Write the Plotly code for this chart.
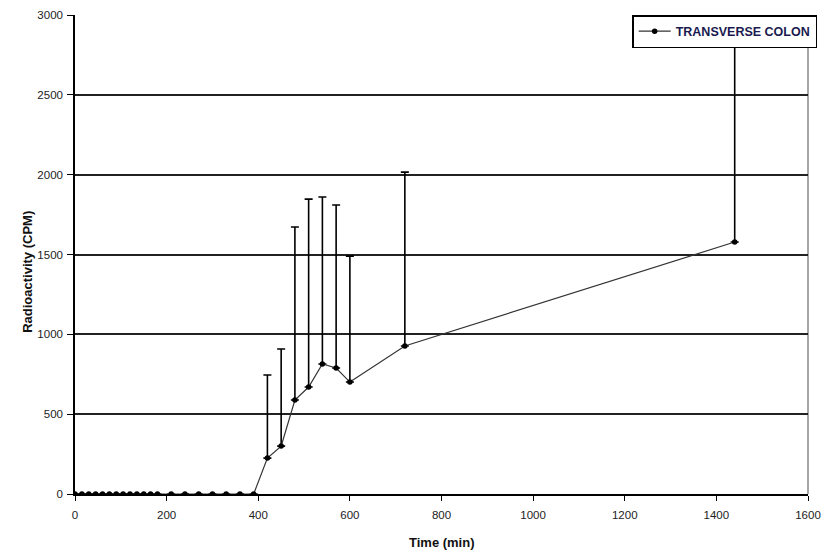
import plotly.graph_objects as go

# Data
time_min = [0, 15, 30, 45, 60, 75, 90, 105, 120, 135, 150, 165, 180,
            210, 240, 270, 300, 330, 360, 390,
            420, 450, 480, 510, 540, 570, 600, 720, 1440]
cpm = [0]*13 + [0]*7 + [225, 300, 589, 670, 814, 789, 701, 927, 1578]
err_upper = [0]*20 + [520, 608, 1083, 1177, 1046, 1021, 789, 1089, 1246]
series_name = "TRANSVERSE COLON"
x_ticks = [0, 200, 400, 600, 800, 1000, 1200, 1400, 1600]
y_ticks = [0, 500, 1000, 1500, 2000, 2500, 3000]

font_family = "Liberation Sans, Arial, sans-serif"

fig = go.Figure()
fig.add_trace(go.Scatter(
    x=time_min, y=cpm, mode="lines+markers", name=series_name,
    line=dict(color="#333333", width=1.2),
    marker=dict(color="black", size=5.5, symbol="circle"),
    error_y=dict(type="data", symmetric=False, array=err_upper,
                 arrayminus=[0]*len(err_upper), color="black",
                 thickness=1.6, width=4),
))

fig.update_layout(
    width=825, height=557,
    margin=dict(l=75, r=17, t=15, b=63, autoexpand=False),
    paper_bgcolor="white", plot_bgcolor="white",
    font=dict(family=font_family, size=11, color="#222222"),
    showlegend=True,
    legend=dict(x=1.0125, y=1.0, xanchor="right", yanchor="top",
                bgcolor="white", bordercolor="black", borderwidth=1.5,
                font=dict(size=12.5, color="#1a1a50", weight="bold"),
                itemwidth=32, tracegroupgap=0),
    xaxis=dict(range=[0, 1600], tickvals=x_ticks, showgrid=False,
               zeroline=False, showline=True, linecolor="black", linewidth=1.5,
               ticks="outside", ticklen=5, tickcolor="black", tickwidth=1.2,
               ticklabelstandoff=4,
               tickfont=dict(size=11.5, color="#222222")),
    yaxis=dict(range=[0, 3000], tickvals=y_ticks, showgrid=True,
               gridcolor="#222222", gridwidth=1.5,
               zeroline=False, showline=True, linecolor="black", linewidth=1.5,
               ticks="outside", ticklen=6, tickcolor="black", tickwidth=1.2,
               ticklabelstandoff=2,
               tickfont=dict(size=11.5, color="#222222")),
    annotations=[
        dict(text="<b>Time (min)</b>", xref="paper", yref="paper",
             x=0.5, y=-0.102, xanchor="center", yanchor="middle",
             showarrow=False, font=dict(size=13, color="#111111")),
        dict(text="<b>Radioactivity (CPM)</b>", xref="paper", yref="paper",
             x=-0.064, y=0.464, xanchor="center", yanchor="middle", textangle=-90,
             showarrow=False, font=dict(size=13, color="#111111")),
    ],
)
# right border of plot area (gray)
fig.add_shape(type="line", xref="paper", yref="paper", x0=1, x1=1, y0=0, y1=1,
              line=dict(color="#888888", width=1.5), layer="below")

fig.write_html("out.html")
